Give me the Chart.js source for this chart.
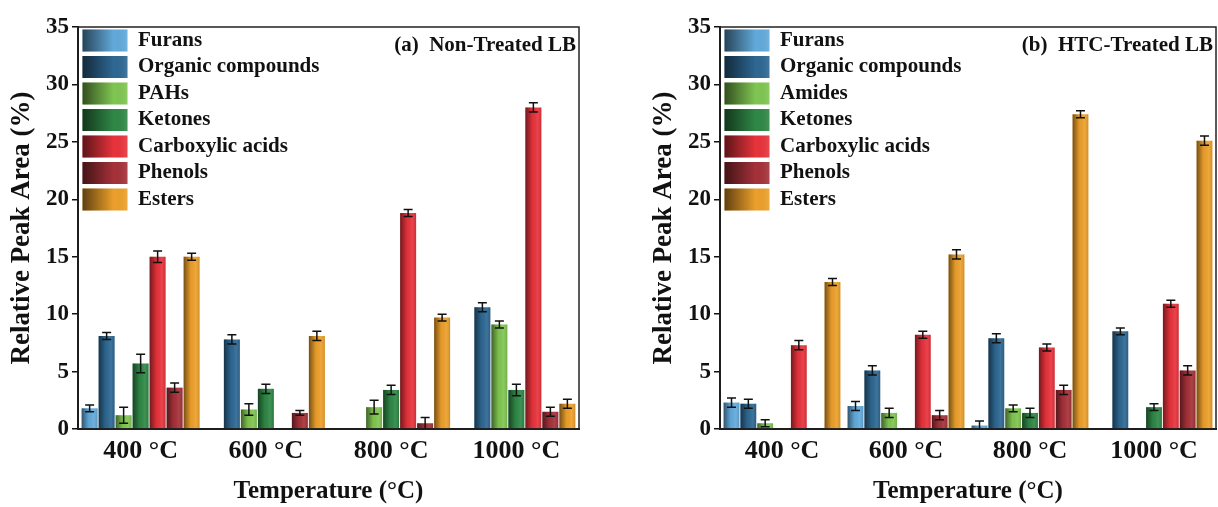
<!DOCTYPE html>
<html>
<head>
<meta charset="utf-8">
<script src="https://cdn.jsdelivr.net/npm/chart.js@4.4.0/dist/chart.umd.min.js"></script>
<style>
  body { margin: 0; background: #fff; }
  #wrap { position: relative; width: 1218px; height: 507px; }
  canvas { position: absolute; top: 0; }
</style>
</head>
<body>
<div id="wrap">
  <canvas id="chartA" width="600" height="507" style="left:0px"></canvas>
  <canvas id="chartB" width="576" height="507" style="left:642px"></canvas>
</div>
<script>
// categories
var temps = ['400 °C', '600 °C', '800 °C', '1000 °C'];
var namesA = ['Furans', 'Organic compounds', 'PAHs', 'Ketones', 'Carboxylic acids', 'Phenols', 'Esters'];
var namesB = ['Furans', 'Organic compounds', 'Amides', 'Ketones', 'Carboxylic acids', 'Phenols', 'Esters'];
var colors = ['#62aadb', '#2e6893', '#80c651', '#2f8846', '#e8333c', '#a63139', '#eda02b'];

// (a) Non-Treated LB
var aFurans     = [1.8, 0,   0,    0];
var aOrganic    = [8.1, 7.8, 0,    10.6];
var aPAHs       = [1.2, 1.7, 1.9,  9.1];
var aKetones    = [5.7, 3.5, 3.4,  3.4];
var aCarboxylic = [15.0, 0,  18.8, 28.0];
var aPhenols    = [3.6, 1.4, 0.5,  1.5];
var aEsters     = [15.0, 8.1, 9.7, 2.2];
var aFuransErr     = [0.3, 0,   0,   0];
var aOrganicErr    = [0.3, 0.4, 0,   0.4];
var aPAHsErr       = [0.7, 0.5, 0.6, 0.3];
var aKetonesErr    = [0.8, 0.4, 0.4, 0.5];
var aCarboxylicErr = [0.5, 0,   0.3, 0.4];
var aPhenolsErr    = [0.4, 0.2, 0.5, 0.4];
var aEstersErr     = [0.3, 0.4, 0.3, 0.4];

// (b) HTC-Treated LB
var bFurans     = [2.3, 2.0, 0.3, 0];
var bOrganic    = [2.2, 5.1, 7.9, 8.5];
var bAmides     = [0.5, 1.4, 1.8, 0];
var bKetones    = [0,   0,   1.4, 1.9];
var bCarboxylic = [7.3, 8.2, 7.1, 10.9];
var bPhenols    = [0,   1.2, 3.4, 5.1];
var bEsters     = [12.8, 15.2, 27.4, 25.1];
var bFuransErr     = [0.4, 0.4, 0.4, 0];
var bOrganicErr    = [0.4, 0.4, 0.4, 0.3];
var bAmidesErr     = [0.3, 0.4, 0.3, 0];
var bKetonesErr    = [0,   0,   0.4, 0.3];
var bCarboxylicErr = [0.4, 0.3, 0.3, 0.3];
var bPhenolsErr    = [0,   0.4, 0.4, 0.4];
var bEstersErr     = [0.3, 0.4, 0.3, 0.4];

var serif = "'Liberation Serif', 'Times New Roman', serif";

// shading on bars + error bars + legend swatches + frame + panel title
var decorPlugin = {
    id: 'decor',
    afterLayout: function(chart) {
        // legend in 'chartArea' mode gets top = 0, move it into the plot
        var lg = chart.legend;
        if (!lg || !lg.legendHitBoxes) return;
        var d = (chart.chartArea.top - 2) - lg.top;
        lg.top += d;
        lg.bottom += d;
        lg.legendHitBoxes.forEach(function(hb) { hb.top += d; });
    },
    afterDatasetsDraw: function(chart) {
        var ctx = chart.ctx;
        var yScale = chart.scales.y;
        chart.data.datasets.forEach(function(ds, i) {
            var meta = chart.getDatasetMeta(i);
            meta.data.forEach(function(bar, j) {
                var v = ds.data[j];
                if (!v) return;
                var left = bar.x - bar.width / 2;
                var g = ctx.createLinearGradient(left, 0, left + bar.width, 0);
                g.addColorStop(0, 'rgba(0,0,0,0.5)');
                g.addColorStop(0.45, 'rgba(0,0,0,0.03)');
                g.addColorStop(0.75, 'rgba(255,255,255,0.08)');
                g.addColorStop(1, 'rgba(0,0,0,0.12)');
                ctx.save();
                ctx.fillStyle = g;
                ctx.fillRect(left, bar.y, bar.width, bar.base - bar.y);
                // error bar
                var e = ds.errors[j];
                if (e) {
                    var yTop = yScale.getPixelForValue(v + e);
                    var yBot = yScale.getPixelForValue(Math.max(v - e, 0));
                    ctx.strokeStyle = '#111';
                    ctx.lineWidth = 1.5;
                    ctx.beginPath();
                    ctx.moveTo(bar.x, yTop); ctx.lineTo(bar.x, yBot);
                    ctx.moveTo(bar.x - 4.5, yTop); ctx.lineTo(bar.x + 4.5, yTop);
                    ctx.moveTo(bar.x - 4.5, yBot); ctx.lineTo(bar.x + 4.5, yBot);
                    ctx.stroke();
                }
                ctx.restore();
            });
        });
    },
    afterDraw: function(chart, args, opts) {
        var ctx = chart.ctx;
        var ca = chart.chartArea;
        ctx.save();
        // legend swatch shading
        var lg = chart.legend;
        if (lg && lg.legendHitBoxes) {
            lg.legendHitBoxes.forEach(function(hb) {
                var bw = lg.options.labels.boxWidth, bh = lg.options.labels.boxHeight;
                var g = ctx.createLinearGradient(hb.left, 0, hb.left + bw, 0);
                g.addColorStop(0, 'rgba(0,0,0,0.6)');
                g.addColorStop(0.7, 'rgba(0,0,0,0)');
                g.addColorStop(1, 'rgba(255,255,255,0.1)');
                ctx.fillStyle = g;
                ctx.fillRect(hb.left, hb.top, bw, bh);
            });
        }
        // frame
        ctx.strokeStyle = '#222';
        ctx.lineWidth = 1.5;
        ctx.strokeRect(ca.left, ca.top, ca.right - ca.left, ca.bottom - ca.top);
        // panel title
        ctx.fillStyle = '#111';
        ctx.font = 'bold 21px ' + serif;
        ctx.textAlign = 'right';
        ctx.textBaseline = 'middle';
        ctx.fillText(opts.text, ca.right - 3, ca.top + 19);
        ctx.restore();
    }
};

function buildChart(canvasId, names, series, errs, panelText, padRight) {
    var datasets = [];
    for (var i = 0; i < names.length; i++) {
        datasets.push({
            label: names[i],
            data: series[i],
            errors: errs[i],
            backgroundColor: colors[i],
            borderWidth: 0,
            categoryPercentage: 0.95,
            barPercentage: 0.94
        });
    }
    var ctx = document.getElementById(canvasId).getContext('2d');
    return new Chart(ctx, {
        type: 'bar',
        data: {
            labels: temps,
            datasets: datasets
        },
        plugins: [decorPlugin],
        options: {
            responsive: false,
            animation: false,
            layout: {
                padding: { top: 27, right: padRight, left: 0, bottom: 0 }
            },
            scales: {
                x: {
                    grid: { display: false, drawTicks: false },
                    border: { display: true, color: '#111', width: 2 },
                    ticks: {
                        color: '#111',
                        padding: 7,
                        font: { family: serif, size: 26, weight: 'bold' }
                    },
                    title: {
                        display: true,
                        text: 'Temperature (°C)',
                        color: '#111',
                        padding: { top: 1, bottom: 0 },
                        font: { family: serif, size: 25, weight: 'bold' }
                    },
                    afterFit: function(scale) { scale.height = 78; }
                },
                y: {
                    min: 0,
                    max: 35,
                    ticks: {
                        stepSize: 5,
                        color: '#111',
                        padding: 3,
                        font: { family: serif, size: 23, weight: 'bold' }
                    },
                    grid: {
                        display: true,
                        drawOnChartArea: false,
                        drawTicks: true,
                        tickLength: 6,
                        color: '#111',
                        lineWidth: 1.5
                    },
                    border: { display: true, color: '#111', width: 2 },
                    title: {
                        display: true,
                        text: 'Relative Peak Area (%)',
                        color: '#111',
                        padding: { top: 6, bottom: 0 },
                        font: { family: serif, size: 27, weight: 'bold' }
                    },
                    afterFit: function(scale) { scale.width = 78; }
                }
            },
            plugins: {
                decor: { text: panelText },
                tooltip: { enabled: false },
                legend: {
                    position: 'chartArea',
                    align: 'start',
                    labels: {
                        boxWidth: 45,
                        boxHeight: 22,
                        padding: 4.5,
                        color: '#111',
                        font: { family: serif, size: 21, weight: 'bold' }
                    }
                }
            }
        }
    });
}

buildChart('chartA', namesA,
    [aFurans, aOrganic, aPAHs, aKetones, aCarboxylic, aPhenols, aEsters],
    [aFuransErr, aOrganicErr, aPAHsErr, aKetonesErr, aCarboxylicErr, aPhenolsErr, aEstersErr],
    '(a)  Non-Treated LB', 21);

buildChart('chartB', namesB,
    [bFurans, bOrganic, bAmides, bKetones, bCarboxylic, bPhenols, bEsters],
    [bFuransErr, bOrganicErr, bAmidesErr, bKetonesErr, bCarboxylicErr, bPhenolsErr, bEstersErr],
    '(b)  HTC-Treated LB', 2);
</script>
</body>
</html>
